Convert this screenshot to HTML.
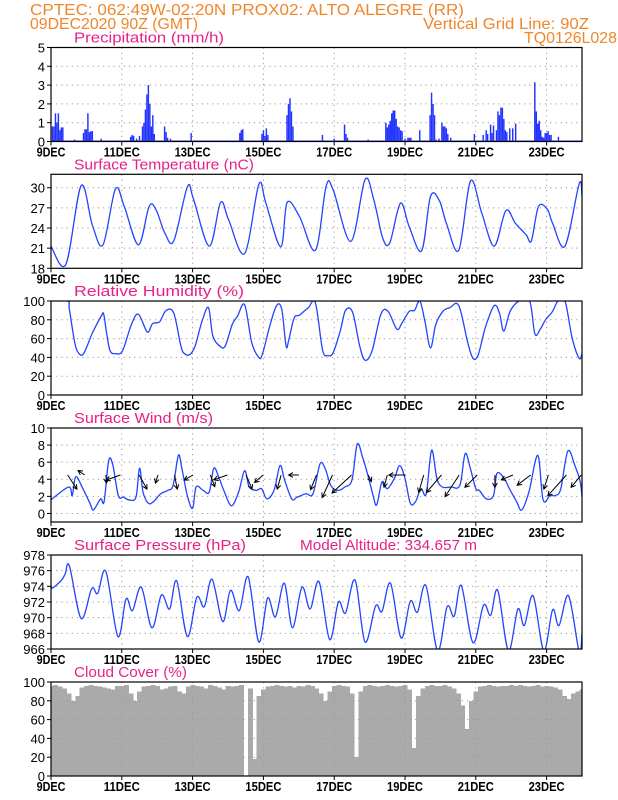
<!DOCTYPE html>
<html><head><meta charset="utf-8">
<style>
html,body{margin:0;padding:0;background:#fff;}
svg{display:block;font-family:"Liberation Sans",sans-serif;}
</style></head>
<body>
<svg id="chart" width="618" height="800" viewBox="0 0 618 800" xmlns="http://www.w3.org/2000/svg">
<g fill="#f0862a" font-size="16">
<text x="30" y="15" textLength="434" lengthAdjust="spacingAndGlyphs">CPTEC:   062:49W-02:20N   PROX02: ALTO ALEGRE (RR)</text>
<text x="30" y="29" textLength="168" lengthAdjust="spacingAndGlyphs">09DEC2020 90Z (GMT)</text>
<text x="423" y="29" textLength="166" lengthAdjust="spacingAndGlyphs">Vertical Grid Line: 90Z</text>
<text x="524" y="43" textLength="93" lengthAdjust="spacingAndGlyphs">TQ0126L028</text>
</g>
<g id="layer"></g>
</svg>
<script>
// ---- data ----
const dayLabels=["9DEC","11DEC","13DEC","15DEC","17DEC","19DEC","21DEC","23DEC"];
const precipHour=[1,2,3,4,5,6,7,8,16,22,23,24,25,26,27,28,34,54,55,56,58,60,62,63,64,65,66,67,68,69,70,77,78,79,81,95,128,129,130,143,144,145,146,147,160,161,162,163,164,184,192,199,200,201,215,227,228,229,230,231,232,233,234,235,236,237,238,240,242,243,244,250,257,258,259,260,261,263,265,266,267,268,269,271,287,293,295,296,298,299,300,302,303,304,305,306,307,308,309,311,313,315,328,329,330,331,332,333,334,335,336,337,338,339,344];
const precipVal=[0.8,0.8,1.5,1.0,1.5,0.6,0.75,0.75,0.1,0.45,0.65,0.65,1.5,0.5,0.55,0.55,0.15,0.25,0.35,0.3,0.15,0.3,0.8,1.0,1.7,2.5,3.0,2.0,0.8,1.4,0.4,0.8,0.5,0.2,0.15,0.45,0.45,0.6,0.65,0.4,0.6,0.3,0.7,0.35,1.4,2.0,2.3,1.6,0.8,0.35,0.15,0.9,0.4,0.2,0.1,1.0,0.75,0.9,1.1,1.5,1.65,1.65,1.2,0.8,0.75,0.6,0.55,0.15,0.2,0.2,0.2,0.6,1.4,2.6,2.0,1.4,0.1,0.15,1.0,0.8,0.8,0.7,0.4,0.2,0.4,0.35,0.6,0.4,0.9,0.45,0.85,0.6,1.6,1.4,1.8,1.8,1.2,0.6,0.5,0.7,0.7,0.95,3.15,1.6,0.95,1.1,0.6,0.25,0.2,0.45,0.45,0.55,0.35,0.35,0.25];

const tempDay=[0,0.42,0.85,1.17,1.47,1.82,2.07,2.47,2.77,2.97,3.22,3.47,3.85,4.02,4.47,4.79,5.02,5.47,5.87,6.07,6.49,6.67,7.02,7.47,7.77,7.97,8.47,8.87,9.12,9.37,9.57,9.87,10.12,10.47,10.72,10.97,11.17,11.52,11.85,12.17,12.52,12.85,13.12,13.42,13.57,13.77,14.02,14.17,14.52,14.92,15];
const tempVal=[21.3,18.6,30.3,24.4,21.5,29.8,27.2,21.5,27.2,26.7,23.2,22.1,30.1,28.4,21.3,27.8,25.2,20.2,30.5,27.7,21.2,27.8,25.7,20.7,30.2,29.7,22.0,31.2,28.2,22.5,21.8,27.7,24.2,20.6,28.7,28.1,24.7,20.7,31.0,26.2,21.3,26.6,24.7,23.0,22.1,27.2,26.8,24.7,21.3,30.6,28.8];

const rhDay=[0,0.47,0.52,0.67,0.77,0.92,1.17,1.42,1.49,1.57,1.67,1.82,2.02,2.27,2.47,2.72,2.87,3.07,3.25,3.47,3.67,3.77,3.92,4.07,4.27,4.45,4.57,4.77,4.92,5.12,5.27,5.47,5.67,5.87,5.97,6.17,6.37,6.52,6.64,6.72,6.87,7.02,7.27,7.47,7.67,7.82,7.97,8.17,8.32,8.52,8.72,8.87,9.07,9.32,9.52,9.77,9.92,10.12,10.27,10.42,10.57,10.72,10.87,11.07,11.27,11.52,11.77,11.92,12.07,12.27,12.52,12.67,12.79,12.97,13.22,13.52,13.67,13.82,13.97,14.17,14.32,14.52,14.72,14.92,15];
const rhVal=[100,100,91,56,45,44,66,84,86,66,47,44,47,75,86,67,76,78,90,87,52,44,43,52,79,93,63,52,52,75,84,96,56,40,43,72,95,91,52,59,82,85,93,98,48,42,45,68,90,88,52,37,47,86,89,70,77,89,90,100,77,50,75,89,93,95,56,39,43,72,95,87,68,89,100,100,65,70,80,89,100,100,61,39,44];

const windDay=[0,0.5,0.6,0.7,0.9,1.1,1.2,1.4,1.5,1.63,1.75,1.9,2.05,2.2,2.4,2.5,2.6,2.75,2.9,3.1,3.3,3.45,3.6,3.7,3.85,4.0,4.1,4.3,4.47,4.6,4.75,4.9,5.1,5.3,5.47,5.6,5.8,5.95,6.1,6.3,6.47,6.6,6.8,6.95,7.2,7.4,7.6,7.75,7.9,8.1,8.3,8.5,8.65,8.8,8.95,9.1,9.2,9.35,9.5,9.7,9.85,10.0,10.15,10.3,10.45,10.6,10.75,10.9,11.05,11.3,11.55,11.7,11.85,12.0,12.1,12.3,12.5,12.6,12.8,12.95,13.15,13.3,13.5,13.75,13.9,14.1,14.25,14.4,14.6,14.8,14.95,15];
const windVal=[1.6,3.1,2.1,4.3,2.9,1.2,0.4,1.7,1.4,6.2,5.6,2.1,1.9,1.6,1.9,5.3,2.5,1.2,1.4,2.3,2.7,3.3,6.8,5.2,2.1,0.6,3.1,2.7,2.5,5.3,4.1,2.5,0.9,2.5,5.0,3.1,2.7,2.9,1.7,2.7,5.6,3.9,1.7,1.9,2.3,2.3,5.8,5.2,3.3,2.7,3.1,3.9,8.1,6.6,4.5,2.1,1.0,3.7,2.9,4.1,5.6,4.1,1.2,1.4,2.9,2.3,7.4,4.1,3.1,3.1,3.3,7.0,5.2,2.9,2.7,1.7,2.1,4.7,4.1,2.9,1.4,0.4,2.5,6.8,1.6,2.1,2.1,2.9,7.3,5.6,3.7,2.0];

const arrowDay=[0.47,0.95,1.55,1.96,2.49,3.02,3.49,4.01,4.5,4.98,5.51,5.99,6.5,7.0,7.5,7.95,8.49,8.96,9.5,10.02,10.53,11.03,11.53,12.04,12.54,13.05,13.55,14.05,14.56,14.98];
const arrowU=[3.1,-2.2,0.2,-4.8,2.6,-0.8,0.9,-2.9,1.5,-4.5,2.0,-2.8,-1.3,-3.4,-2.0,-3.4,-6.5,1.1,-1.1,-5.6,-1.7,-5.0,-4.7,-4.1,0,-3.9,-4.5,-1.5,-6.2,-3.4];
const arrowV=[-4.7,1.5,-2.7,-1.7,-4.7,-2.7,-4.7,-1.7,-3.9,-1.6,-4.7,-2.5,-4.7,0,-4.9,-7.5,-6.0,-2.2,-4.1,0,-5.8,-5.8,-7.2,-4.1,-4.1,-1.6,-3.4,-4.7,-6.9,-4.1];

const presDay=[0,0.05,0.3,0.4,0.52,0.85,1.15,1.32,1.55,1.89,2.12,2.3,2.55,2.85,3.12,3.35,3.55,3.85,4.12,4.33,4.55,4.85,5.07,5.32,5.57,5.87,6.12,6.34,6.59,6.82,7.09,7.32,7.57,7.87,8.12,8.32,8.59,8.87,9.17,9.35,9.59,9.89,10.15,10.35,10.59,10.92,11.19,11.39,11.59,11.92,12.22,12.42,12.62,12.92,13.19,13.37,13.62,13.92,14.17,14.35,14.62,14.92,15];
const presVal=[974.1,973.8,974.8,975.6,976.6,969.9,973.7,973.1,975.9,967.6,972.4,970.9,973.9,968.7,972.9,971.1,974.7,967.6,972.6,971.4,974.9,969.5,973.5,970.9,975.2,966.9,972.5,970.1,974.4,968.7,973.9,971.1,974.6,967.2,972.0,970.6,974.8,966.9,971.5,970.8,974.4,967.4,972.1,970.7,974.1,965.8,971.4,970.2,974.1,966.8,971.6,970.3,973.5,965.8,971.1,969.0,972.8,965.8,971.0,969.0,972.8,965.6,967.9];

const cloudVal=[96,97,95,93,88,80,85,94, 96,97,96,95,94,93,92,96, 96,97,88,80,90,95,96,97, 96,92,93,95,96,90,88,95, 97,96,95,93,97,96,94,92, 96,95,96,97,0,93,18,85, 92,95,96,97,96,95,96,94, 96,95,97,96,93,88,80,90, 96,97,96,95,88,20,90,96, 97,96,95,96,97,96,95,96, 97,92,30,85,93,96,97,96, 96,97,95,93,88,75,50,80, 90,95,96,97,96,95,96,96, 97,96,97,96,95,96,97,95, 96,95,94,92,85,82,88,90, 92];

// ---- layout ----
const NS="http://www.w3.org/2000/svg";
const X0=51,X1=582,DAYS=15,H=94;
const xs=d=>X0+d*(X1-X0)/DAYS;
const layer=document.getElementById('layer');
function mk(tag,attrs,parent){const e=document.createElementNS(NS,tag);for(const k in attrs)e.setAttribute(k,attrs[k]);(parent||layer).appendChild(e);return e;}
const panels=[
 {key:'precip',top:47.5,lo:0,hi:5,ticks:[0,1,2,3,4,5],title:'Precipitation (mm/h)',tw:150},
 {key:'temperature',top:174.3,lo:18,hi:32,ticks:[18,21,24,27,30],title:'Surface Temperature (nC)',tw:180},
 {key:'humidity',top:301,lo:0,hi:100,ticks:[0,20,40,60,80,100],title:'Relative Humidity (%)',tw:170},
 {key:'wind',top:428,lo:-1,hi:10,ticks:[0,2,4,6,8,10],title:'Surface Wind (m/s)',tw:139},
 {key:'pressure',top:555,lo:966,hi:978,ticks:[966,968,970,972,974,976,978],title:'Surface Pressure (hPa)',tw:172},
 {key:'cloud',top:682,lo:0,hi:100,ticks:[0,20,40,60,80,100],title:'Cloud Cover (%)',tw:113}
];
const ys=(p,v)=>p.top+H*(p.hi-v)/(p.hi-p.lo);
function smooth(pts){let d='M'+pts[0][0].toFixed(1)+','+pts[0][1].toFixed(1);
 for(let i=0;i<pts.length-1;i++){const p0=pts[i-1]||pts[i],p1=pts[i],p2=pts[i+1],p3=pts[i+2]||p2;
  const c1=[p1[0]+(p2[0]-p0[0])/6,p1[1]+(p2[1]-p0[1])/6],c2=[p2[0]-(p3[0]-p1[0])/6,p2[1]-(p3[1]-p1[1])/6];
  d+='C'+c1[0].toFixed(1)+','+c1[1].toFixed(1)+' '+c2[0].toFixed(1)+','+c2[1].toFixed(1)+' '+p2[0].toFixed(1)+','+p2[1].toFixed(1);}
 return d;}
const P={};
panels.forEach((p,i)=>{
 P[p.key]=p;
 const g=mk('g',{});
 
 
 p.g=g;
 const cp=mk('clipPath',{id:'clip'+i},g);mk('rect',{x:X0,y:p.top,width:X1-X0,height:H},cp);
 const t=mk('text',{x:74,y:p.top-5,fill:'#e8208a','font-size':15,textLength:p.tw,lengthAdjust:'spacingAndGlyphs'},g);
 t.textContent=p.title;
 
 
 p.back=mk('g',{'clip-path':'url(#clip'+i+')'},g);
 p.ticks.forEach(v=>{const y=ys(p,v);
  if(v!==p.hi&&v!==p.lo){const l=mk('line',{x1:X0,x2:X1,y1:y,y2:y,stroke:'#999','stroke-dasharray':'1.2,4'},g);}
  mk('line',{x1:X0-4,x2:X0,y1:y,y2:y,stroke:'#000'},g);
  const tl=mk('text',{x:X0-6,y:y+5,'text-anchor':'end','font-size':13,fill:'#000'},g);
  tl.textContent=v;
  
  
 });
 dayLabels.forEach((lab,k)=>{const x=xs(k*2);
  if(k>0){const l=mk('line',{x1:x,x2:x,y1:p.top,y2:p.top+H,stroke:'#999','stroke-dasharray':'1.2,4'},g);}
  mk('line',{x1:x,x2:x,y1:p.top+H,y2:p.top+H+4,stroke:'#000'},g);
  const tl=mk('text',{x:x,y:p.top+H+15,'text-anchor':'middle','font-size':12.5,'font-weight':'bold',fill:'#000',textLength:lab.length*7.2,lengthAdjust:'spacingAndGlyphs'},g);
  tl.textContent=lab;
  
  
 });
 p.plot=mk('g',{'clip-path':'url(#clip'+i+')'},g);
});
// precip bars
{const p=P.precip;
 mk('line',{x1:X0,x2:X1,y1:p.top+H-0.5,y2:p.top+H-0.5,stroke:'#2233ff','stroke-width':1},p.plot);
 precipHour.forEach((h,i)=>{const x=xs(h/24),y=ys(p,precipVal[i]);
  const r=mk('rect',{x:x-0.7,y:y,width:1.45,height:p.top+H-y,fill:'#2233ff'},p.plot);
  
  });}
// cloud bars
{const p=P.cloud;
 cloudVal.forEach((v,i)=>{const x=xs(i/8),y=ys(p,v);
  const r=mk('rect',{x:x-2.3,y:y,width:5,height:p.top+H-y,fill:'#aaaaaa','shape-rendering':'crispEdges'},p.back);
  
  });}
function line(p,days,vals,name){const pts=days.map((d,i)=>[xs(d),ys(p,vals[i])]);
 const e=mk('path',{d:smooth(pts),fill:'none',stroke:'#2244ff','stroke-width':1.3},p.plot);
 
 }
line(P.temperature,tempDay,tempVal,'temperature-line');
line(P.humidity,rhDay,rhVal,'humidity-line');
line(P.wind,windDay,windVal,'wind-speed-line');
line(P.pressure,presDay,presVal,'pressure-line');
// wind arrows
{const p=P.wind,base=ys(p,4.5),k=3;
 arrowDay.forEach((d,i)=>{const x=xs(d),y=base,ex=x+arrowU[i]*k,ey=y-arrowV[i]*k;
  const ang=Math.atan2(ey-y,ex-x),hl=5;
  const d1=`M${x},${y}L${ex},${ey}M${ex-hl*Math.cos(ang-0.5)},${ey-hl*Math.sin(ang-0.5)}L${ex},${ey}L${ex-hl*Math.cos(ang+0.5)},${ey-hl*Math.sin(ang+0.5)}`;
  const a=mk('path',{d:d1,fill:'none',stroke:'#000','stroke-width':1},p.g);
  
  });}
// frames
panels.forEach(p=>{const f=mk('rect',{x:X0,y:p.top,width:X1-X0,height:H,fill:'none',stroke:'#000','stroke-width':1.2},p.g);
 
 });
{const t=mk('text',{x:300,y:P.pressure.top-5,fill:'#e8208a','font-size':15,textLength:177,lengthAdjust:'spacingAndGlyphs'});
 t.textContent='Model Altitude: 334.657 m';
 
 }
</script>
</body></html>
